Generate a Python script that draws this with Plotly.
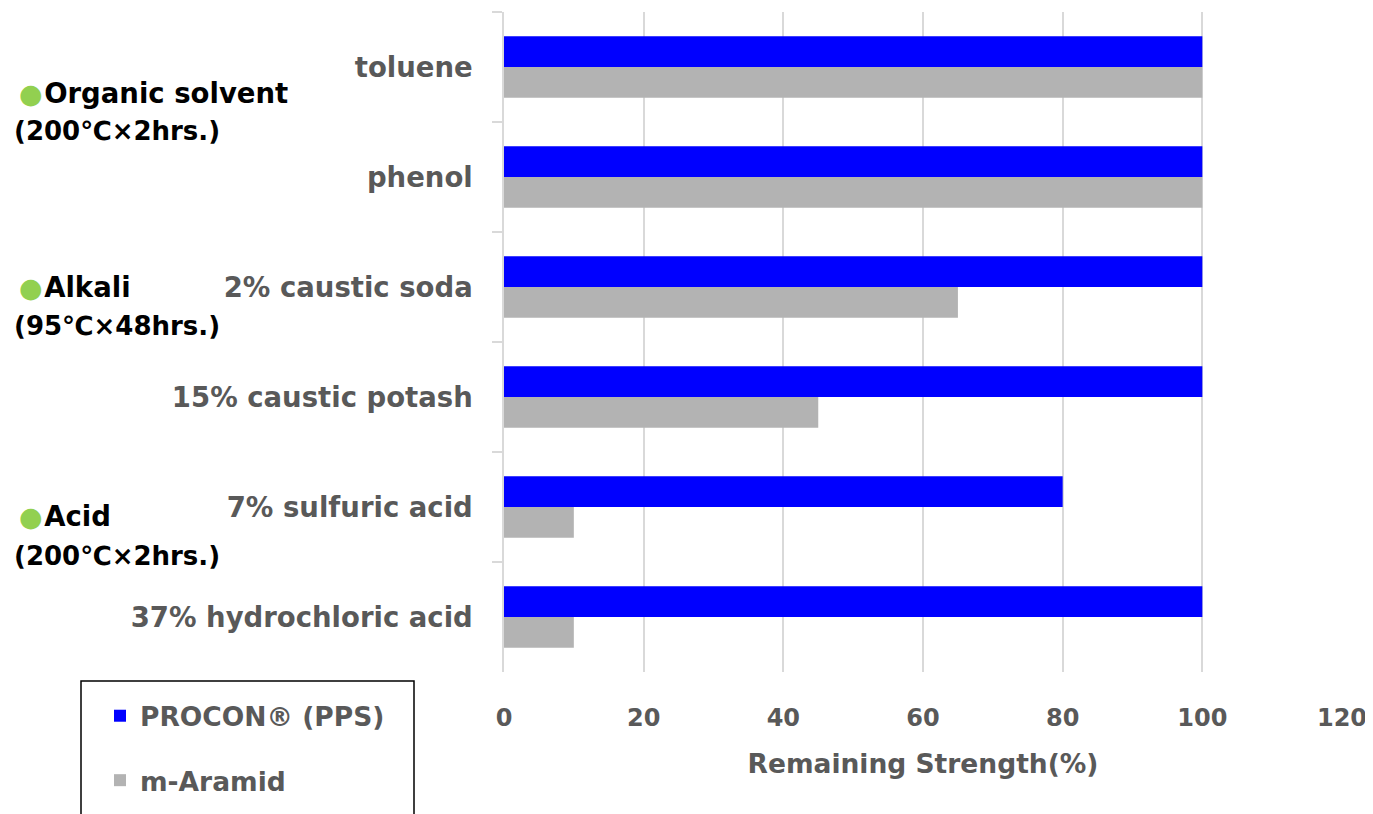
import plotly.graph_objects as go

categories = ["toluene", "phenol", "2% caustic soda", "15% caustic potash",
              "7% sulfuric acid", "37% hydrochloric acid"]
procon = [100, 100, 100, 100, 80, 100]
aramid = [100, 100, 65, 45, 10, 10]
x_ticks = [0, 20, 40, 60, 80, 100, 120]
groups = [("Organic solvent", "(200℃×2hrs.)"),
          ("Alkali", "(95℃×48hrs.)"),
          ("Acid", "(200℃×2hrs.)")]

# page body has an 8px margin; lay out in screen pixels and convert
OFF = 8
W, H = 1373 - OFF, 814 - OFF
PLOT_L, PLOT_R, PLOT_T, PLOT_B = 504, 1342, 12, 672  # screen pixels
L = PLOT_L - OFF
R = 1373 - PLOT_R
T = PLOT_T - OFF
B = (814 - PLOT_B)
pw, ph = PLOT_R - PLOT_L, PLOT_B - PLOT_T

def px_x(p):
    return (p - PLOT_L) / pw

def px_y(p):
    return (PLOT_B - p) / ph

FONT = "DejaVu Sans"
GRAY = "#595959"

fig = go.Figure()
fig.add_trace(go.Bar(y=categories, x=procon, orientation="h", name="PROCON® (PPS)",
                     marker=dict(color="#0000FF", line=dict(width=0)), legendgroup="a"))
fig.add_trace(go.Bar(y=categories, x=aramid, orientation="h", name="m-Aramid",
                     marker=dict(color="#B3B3B3", line=dict(width=0)), legendgroup="b"))

annotations = []
group_y = [(93, 131), (287, 326), (516, 556)]
for (t1, t2), (y1, y2) in zip(groups, group_y):
    annotations.append(dict(xref="paper", yref="paper", x=px_x(17), y=px_y(y1),
                            xanchor="left", yanchor="middle", showarrow=False,
                            text="<span style='color:#92D050;font-size:27px'>●</span>"
                                 "<span style='font-size:5px'> </span><b>" + t1 + "</b>",
                            font=dict(family=FONT, size=27.5, color="black")))
    annotations.append(dict(xref="paper", yref="paper", x=px_x(12), y=px_y(y2),
                            xanchor="left", yanchor="middle", showarrow=False,
                            text="<b>" + t2 + "</b>",
                            font=dict(family=FONT, size=26, color="black")))

fig.update_layout(
    width=W, height=H,
    margin=dict(l=L, r=R, t=T, b=B, autoexpand=False),
    paper_bgcolor="white", plot_bgcolor="white",
    barmode="group", bargap=0.44, bargroupgap=0,
    font=dict(family=FONT, color=GRAY),
    annotations=annotations,
    showlegend=True,
    legend=dict(x=px_x(100), y=px_y(692), xanchor="left", yanchor="top",
                bgcolor="rgba(0,0,0,0)", traceorder="grouped", tracegroupgap=27,
                font=dict(family=FONT, size=26.5, color=GRAY, weight="bold"),
                itemwidth=30),
    shapes=[dict(type="rect", xref="paper", yref="paper",
                 x0=px_x(81), x1=px_x(414), y0=px_y(681), y1=px_y(830),
                 line=dict(color="black", width=1.5), fillcolor="rgba(0,0,0,0)")],
    xaxis=dict(range=[0, 120], tickvals=x_ticks, showgrid=True, gridcolor="#D9D9D9",
               gridwidth=1.5, zeroline=False, showline=False, ticks="",
               ticklabelstandoff=29, automargin=False,
               tickfont=dict(family=FONT, size=24, color=GRAY, weight="bold"),
               title=dict(text="<b>Remaining Strength(%)</b>", standoff=23,
                          font=dict(family=FONT, size=26.5, color=GRAY))),
    yaxis=dict(autorange="reversed", showline=True, linecolor="#D9D9D9", linewidth=1.5,
               ticks="outside", tickson="boundaries", ticklen=10, tickcolor="#D9D9D9",
               tickwidth=1.5, showgrid=False, ticklabelstandoff=24, automargin=False,
               tickfont=dict(family=FONT, size=27.5, color=GRAY, weight="bold")),
)

fig.write_html("out.html")
